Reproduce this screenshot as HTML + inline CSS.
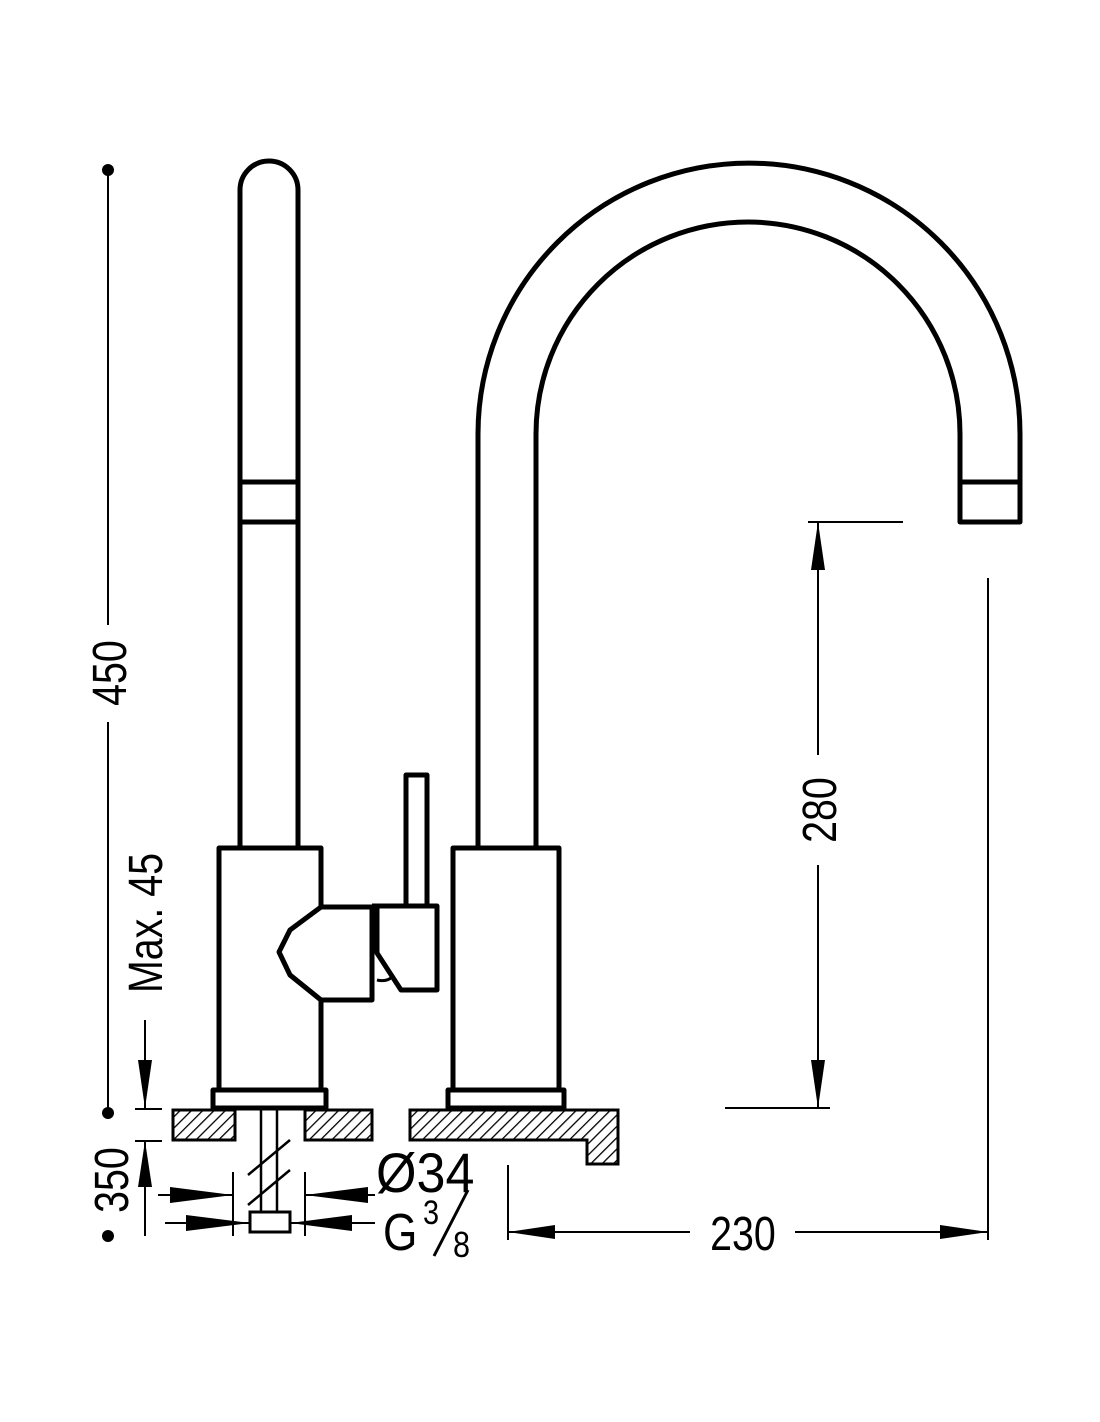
<!DOCTYPE html>
<html><head><style>
html,body{margin:0;padding:0;background:#fff;}
svg{display:block;}
text{font-family:"Liberation Sans",sans-serif;fill:#000;}
</style></head><body>
<svg width="1100" height="1422" viewBox="0 0 1100 1422" xmlns="http://www.w3.org/2000/svg">
<defs>
<pattern id="h" width="8" height="8" patternUnits="userSpaceOnUse" patternTransform="rotate(45)">
<line x1="0" y1="0" x2="0" y2="8" stroke="#000" stroke-width="2.6"/>
</pattern>
</defs>
<g fill="none" stroke="#000" stroke-width="5" stroke-linejoin="round">
<path d="M240 846 V190 A29 29 0 0 1 298 190 V846"/>
<line x1="240" y1="482" x2="298" y2="482"/>
<line x1="240" y1="522" x2="298" y2="522"/>
<path d="M321 907 V848 H219 V1090 H321 V1000"/>
<rect x="213" y="1090" width="113" height="18"/>
<path d="M321 907 H372 V1000 H321 L290 975 L279 952 L290 930 Z"/>
<path d="M406 906 V775 H427 V906"/>
<path d="M372 906 H437 V990 H401 L377 953 V906" />
<path d="M377 980 Q385 982 391 978" stroke-width="3"/>
<path d="M478 846 V434 A271 271 0 0 1 1020 434 V522 H960 V434 A212 212 0 0 0 536 434 V846"/>
<line x1="960" y1="482" x2="1020" y2="482"/>
<rect x="453" y="848" width="106" height="242"/>
<rect x="448" y="1090" width="116" height="18"/>
</g>
<g stroke="#000" stroke-width="3">
<rect x="173" y="1110" width="62" height="30" fill="url(#h)"/>
<rect x="305" y="1110" width="67" height="30" fill="url(#h)"/>
<path d="M410 1110 H618 V1164 H587 V1140 H410 Z" fill="url(#h)"/>
</g>
<g stroke="#000" stroke-width="2.5" fill="none">
<line x1="261" y1="1110" x2="261" y2="1212"/>
<line x1="277" y1="1110" x2="277" y2="1212"/>
<line x1="248" y1="1175" x2="290" y2="1140"/>
<line x1="248" y1="1205" x2="290" y2="1170"/>
<rect x="250" y="1212" width="40" height="20" fill="#fff" stroke-width="3"/>
</g>
<g stroke="#000" stroke-width="2" fill="none">
<line x1="108" y1="170" x2="108" y2="625"/>
<line x1="108" y1="722" x2="108" y2="1112"/>
<line x1="145" y1="1020" x2="145" y2="1108"/>
<line x1="135" y1="1109" x2="162" y2="1109"/>
<line x1="135" y1="1141" x2="162" y2="1141"/>
<line x1="145" y1="1141" x2="145" y2="1236"/>
<line x1="233" y1="1172" x2="233" y2="1236"/>
<line x1="305" y1="1172" x2="305" y2="1236"/>
<line x1="158" y1="1195" x2="233" y2="1195"/>
<line x1="305" y1="1195" x2="375" y2="1195"/>
<line x1="165" y1="1223" x2="250" y2="1223"/>
<line x1="290" y1="1223" x2="375" y2="1223"/>
<line x1="508" y1="1165" x2="508" y2="1240"/>
<line x1="988" y1="578" x2="988" y2="1240"/>
<line x1="508" y1="1232" x2="690" y2="1232"/>
<line x1="795" y1="1232" x2="988" y2="1232"/>
<line x1="818" y1="522" x2="818" y2="755"/>
<line x1="818" y1="865" x2="818" y2="1108"/>
<line x1="808" y1="522" x2="903" y2="522"/>
<line x1="725" y1="1108" x2="830" y2="1108"/>
</g>
<g fill="#000">
<circle cx="108" cy="170" r="6"/>
<circle cx="108" cy="1113" r="6"/>
<circle cx="108" cy="1236" r="6"/>
<polygon points="145,1108 138,1060 152,1060"/>
<polygon points="145,1141 138,1187 152,1187"/>
<polygon points="233,1195 170,1187 170,1203"/>
<polygon points="305,1195 368,1187 368,1203"/>
<polygon points="250,1223 186,1215 186,1231"/>
<polygon points="290,1223 352,1215 352,1231"/>
<polygon points="508,1232 555,1225 555,1239"/>
<polygon points="988,1232 940,1225 940,1239"/>
<polygon points="818,522 811,570 825,570"/>
<polygon points="818,1108 811,1060 825,1060"/>
</g>
<g font-size="48">
<text transform="translate(126,673) rotate(-90) scale(0.82,1)" text-anchor="middle">450</text>
<text transform="translate(162,923) rotate(-90) scale(0.82,1)" text-anchor="middle">Max. 45</text>
<text transform="translate(128,1180) rotate(-90) scale(0.82,1)" text-anchor="middle">350</text>
<text transform="translate(836,810) rotate(-90) scale(0.82,1)" text-anchor="middle">280</text>
<text transform="translate(743,1250) scale(0.82,1)" text-anchor="middle">230</text>
</g>
<text transform="translate(376,1192) scale(0.93,1)" font-size="56">Ø34</text>
<text transform="translate(383,1250) scale(0.85,1)" font-size="52">G</text>
<text transform="translate(423,1224) scale(0.85,1)" font-size="34">3</text>
<line x1="434" y1="1256" x2="468" y2="1190" stroke="#000" stroke-width="3"/>
<text transform="translate(453,1257) scale(0.85,1)" font-size="36">8</text>
</svg>
</body></html>
